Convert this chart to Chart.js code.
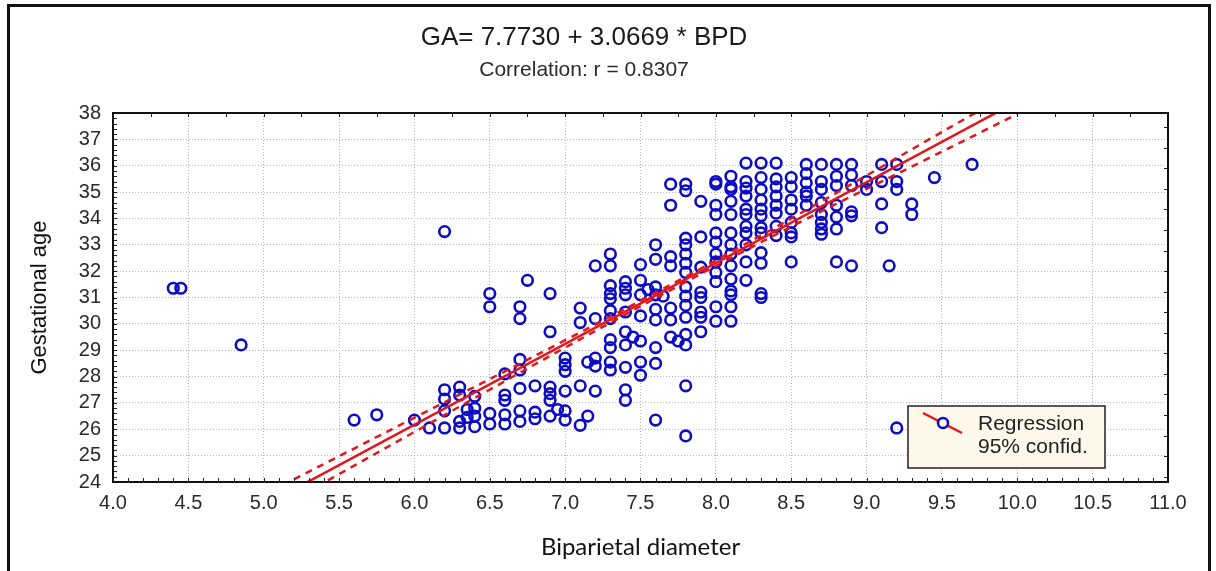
<!DOCTYPE html>
<html>
<head>
<meta charset="utf-8">
<title>GA vs BPD</title>
<script src="https://cdn.jsdelivr.net/npm/chart.js@4.4.1/dist/chart.umd.min.js"></script>
<style>
    body { margin: 0; background: #fff; }
    #moldura {
        position: absolute; left: 7px; top: 4px; width: 1204px; height: 640px;
        border: 3px solid #111; box-sizing: border-box; pointer-events: none;
    }
    #grafico { position: absolute; left: 0; top: 0; }
</style>
</head>
<body>
<canvas id="grafico" width="1216" height="571"></canvas>
<div id="moldura"></div>
<script>
// --- Dados ---

// Colunas de BPD (diâmetro biparietal) e as idades gestacionais de cada coluna
const colunasBPD = [
    4.4, 4.45, 4.85, 5.6, 5.75, 6.0, 6.1, 6.2, 6.3, 6.35, 6.4, 6.5, 6.6, 6.7, 6.75, 6.8, 6.9, 6.95,
    7.0, 7.1, 7.15, 7.2, 7.3, 7.4, 7.45, 7.5, 7.55, 7.6, 7.65, 7.7, 7.75, 7.8, 7.9,
    8.0, 8.1, 8.2, 8.3, 8.4, 8.5, 8.6, 8.7, 8.8, 8.9, 9.0, 9.1, 9.15, 9.2, 9.3, 9.45, 9.7
];
const idadesPorColuna = [
    [31.35], [31.35], [29.2], [26.35], [26.55], [26.35], [26.05],
    [33.5, 27.5, 27.15, 26.7, 26.05],
    [27.6, 27.3, 26.3, 26.05],
    [26.75, 26.45],
    [27.25, 26.8, 26.5, 26.1],
    [31.15, 30.65, 26.6, 26.2],
    [28.1, 27.3, 27.1, 26.55, 26.2],
    [30.65, 30.2, 28.65, 28.25, 27.55, 26.7, 26.3],
    [31.65],
    [27.65, 26.65, 26.4],
    [31.15, 29.7, 27.6, 27.35, 27.1, 26.5],
    [26.75],
    [28.7, 28.45, 28.2, 27.45, 26.7, 26.35],
    [30.6, 30.05, 27.65, 26.15],
    [28.55, 26.5],
    [32.2, 30.2, 28.7, 28.4, 27.45],
    [32.65, 32.2, 31.45, 31.15, 30.95, 30.5, 30.2, 29.4, 29.1, 28.55, 28.25],
    [31.6, 31.35, 31.1, 30.45, 29.7, 29.2, 28.35, 27.5, 27.1],
    [29.5],
    [32.25, 31.65, 31.1, 30.3, 29.35, 28.55, 28.05],
    [31.3],
    [33.0, 32.45, 31.4, 31.1, 30.55, 30.15, 29.1, 28.5, 26.35],
    [31.05],
    [35.3, 34.5, 32.55, 32.2, 30.6, 30.15, 29.5],
    [29.35],
    [35.3, 35.05, 33.25, 33.0, 32.65, 32.3, 31.95, 31.4, 31.05, 30.7, 30.25, 29.6, 29.2, 27.65, 25.75],
    [34.65, 33.3, 32.15, 31.2, 31.0, 30.45, 30.25, 29.7],
    [35.4, 35.3, 34.5, 34.15, 33.45, 33.1, 32.65, 32.35, 31.95, 31.6, 30.65, 30.1],
    [35.6, 35.2, 35.1, 34.65, 34.15, 33.45, 33.0, 32.65, 32.2, 31.7, 31.25, 31.1, 30.65, 30.1],
    [36.1, 35.4, 35.15, 34.85, 34.35, 34.15, 33.7, 33.45, 33.0, 32.35, 31.65],
    [36.1, 35.55, 35.1, 34.7, 34.35, 34.1, 33.65, 33.45, 32.7, 32.3, 31.15, 31.0],
    [36.1, 35.5, 35.2, 34.85, 34.5, 34.2, 33.7, 33.35],
    [35.55, 35.2, 34.7, 34.35, 33.85, 33.45, 33.3, 32.35],
    [36.05, 35.7, 35.35, 35.0, 34.85, 34.5],
    [36.05, 35.4, 35.1, 34.6, 34.15, 33.85, 33.6, 33.4],
    [36.05, 35.6, 35.25, 34.5, 34.05, 33.6, 32.35],
    [36.05, 35.65, 35.25, 34.25, 34.1, 32.2],
    [35.4, 35.1],
    [36.05, 35.4, 34.55, 33.65],
    [32.2],
    [36.05, 35.4, 35.1, 26.05],
    [34.55, 34.15],
    [35.55],
    [36.05]
];

// Reta de regressão (GA = 7.7730 + 3.0669 * BPD) nas extremidades
const regressaoX = [5.2, 10.0];
const regressaoY = [23.72, 38.44];

// Faixas de confiança de 95% (tracejadas)
const faixaX = [5.2, 6.0, 7.0, 7.8, 8.6, 9.4, 10.0];
const faixaSuperior = [24.1, 26.44, 29.38, 31.79, 34.32, 36.95, 38.92];
const faixaInferior = [23.34, 25.9, 29.10, 31.59, 33.98, 36.25, 37.96];

// Eixos
const limitesX = [4.0, 11.0];
const limitesY = [24, 38];

// --- Cores e fontes ---
const AZUL = '#0c0cc4';
const VERMELHO = '#e3161c';
const FONTE = "'Liberation Sans', Arial, sans-serif";

// --- Montagem dos pontos ---
function montarPontos() {
    const pontos = [];
    colunasBPD.forEach((bpd, i) => {
        idadesPorColuna[i].forEach(ga => pontos.push({ x: bpd, y: ga }));
    });
    return pontos;
}
const juntar = (xs, ys) => xs.map((x, i) => ({ x: x, y: ys[i] }));

// --- Plugin: moldura do gráfico, marcas menores e legenda interna ---
const molduraPlugin = {
    id: 'molduraPlugin',
    afterDraw(chart) {
        const { ctx, chartArea: a, scales: { x, y } } = chart;
        ctx.save();

        // marcas menores
        ctx.strokeStyle = '#222';
        ctx.lineWidth = 1;
        ctx.beginPath();
        for (let v = limitesX[0]; v <= limitesX[1] + 1e-6; v += 0.1) {
            const px = Math.round(x.getPixelForValue(v)) + 0.5;
            ctx.moveTo(px, a.bottom); ctx.lineTo(px, a.bottom - 4);
        }
        for (let v = limitesX[0]; v <= limitesX[1] + 1e-6; v += 0.25) {
            const px = Math.round(x.getPixelForValue(v)) + 0.5;
            ctx.moveTo(px, a.top); ctx.lineTo(px, a.top + 4);
        }
        for (let v = limitesY[0]; v <= limitesY[1] + 1e-6; v += 0.2) {
            const py = Math.round(y.getPixelForValue(v)) + 0.5;
            ctx.moveTo(a.left, py); ctx.lineTo(a.left + 4, py);
        }
        for (let v = limitesY[0] + 0.2; v <= limitesY[1] + 1e-6; v += 0.78) {
            const py = Math.round(y.getPixelForValue(v)) + 0.5;
            ctx.moveTo(a.right, py); ctx.lineTo(a.right - 4, py);
        }
        ctx.stroke();

        // moldura da área de plotagem
        ctx.strokeStyle = '#111';
        ctx.lineWidth = 2;
        ctx.strokeRect(a.left, a.top, a.right - a.left, a.bottom - a.top);

        // legenda
        const lx = a.right - 260, ly = a.bottom - 76, lw = 197, lh = 62;
        ctx.fillStyle = '#fdf8ea';
        ctx.fillRect(lx, ly, lw, lh);
        ctx.strokeStyle = '#222';
        ctx.lineWidth = 1.5;
        ctx.strokeRect(lx, ly, lw, lh);

        ctx.strokeStyle = VERMELHO;
        ctx.lineWidth = 2.5;
        ctx.beginPath();
        ctx.moveTo(lx + 15, ly + 7);
        ctx.lineTo(lx + 54, ly + 27);
        ctx.stroke();
        ctx.strokeStyle = AZUL;
        ctx.lineWidth = 2.5;
        ctx.fillStyle = '#fdf8ea';
        ctx.beginPath();
        ctx.arc(lx + 35, ly + 17, 5, 0, Math.PI * 2);
        ctx.fill();
        ctx.stroke();

        ctx.fillStyle = '#222';
        ctx.font = '21px ' + FONTE;
        ctx.textBaseline = 'middle';
        ctx.textAlign = 'left';
        ctx.fillText('Regression', lx + 70, ly + 18);
        ctx.fillText('95% confid.', lx + 70, ly + 41);
        ctx.restore();
    }
};

// --- Gráfico ---
function renderizarGrafico() {
    const ctx = document.getElementById('grafico').getContext('2d');
    const estiloFaixa = {
        type: 'line',
        borderColor: VERMELHO,
        borderWidth: 2.5,
        borderDash: [7, 6],
        pointRadius: 0,
        tension: 0.35,
        fill: false
    };

    new Chart(ctx, {
        type: 'scatter',
        data: {
            datasets: [
                {
                    label: 'Regression',
                    type: 'line',
                    data: juntar(regressaoX, regressaoY),
                    borderColor: VERMELHO,
                    borderWidth: 2.5,
                    pointRadius: 0,
                    fill: false
                },
                Object.assign({ label: '95% superior', data: juntar(faixaX, faixaSuperior) }, estiloFaixa),
                Object.assign({ label: '95% inferior', data: juntar(faixaX, faixaInferior) }, estiloFaixa),
                {
                    label: 'GA',
                    data: montarPontos(),
                    pointStyle: 'circle',
                    pointRadius: 5.3,
                    borderWidth: 2.6,
                    borderColor: AZUL,
                    backgroundColor: 'rgba(0,0,0,0)'
                }
            ]
        },
        options: {
            responsive: false,
            animation: false,
            devicePixelRatio: 1,
            layout: { padding: { top: 0, right: 48, bottom: 0, left: 0 } },
            plugins: {
                legend: { display: false },
                tooltip: { enabled: false },
                title: {
                    display: true,
                    text: 'GA= 7.7730 + 3.0669 * BPD',
                    color: '#1a1a1a',
                    font: { family: FONTE, size: 26, weight: 'normal' },
                    padding: { top: 22, bottom: 0 }
                },
                subtitle: {
                    display: true,
                    text: 'Correlation: r = 0.8307',
                    color: '#2a2a2a',
                    font: { family: FONTE, size: 21, weight: 'normal' },
                    padding: { top: 4, bottom: 30.6 }
                }
            },
            scales: {
                x: {
                    type: 'linear',
                    min: limitesX[0],
                    max: limitesX[1],
                    afterFit: (escala) => { escala.height = 89; },
                    ticks: {
                        stepSize: 0.5,
                        autoSkip: false,
                        maxRotation: 0,
                        padding: 9,
                        color: '#2a2a2a',
                        font: { family: FONTE, size: 20 },
                        callback: (v) => Number(v).toFixed(1)
                    },
                    grid: { color: '#b5b5b5', lineWidth: 1, drawTicks: false },
                    border: { display: true, color: '#111', width: 2, dash: [1, 2] },
                    title: {
                        display: true,
                        text: 'Biparietal diameter',
                        color: '#111',
                        font: { family: 'Lato, sans-serif', size: 24 },
                        padding: { top: 0, bottom: 9 }
                    }
                },
                y: {
                    type: 'linear',
                    min: limitesY[0],
                    max: limitesY[1],
                    afterFit: (escala) => { escala.width = 113; },
                    ticks: {
                        stepSize: 1,
                        autoSkip: false,
                        padding: 12,
                        color: '#2a2a2a',
                        font: { family: FONTE, size: 20 }
                    },
                    grid: { color: '#b5b5b5', lineWidth: 1, drawTicks: false },
                    border: { display: true, color: '#111', width: 2, dash: [1, 2] },
                    title: {
                        display: true,
                        text: 'Gestational age',
                        color: '#111',
                        font: { family: FONTE, size: 22 },
                        padding: { top: 27, bottom: 0 }
                    }
                }
            }
        },
        plugins: [molduraPlugin]
    });
}

document.addEventListener('DOMContentLoaded', renderizarGrafico);
</script>
</body>
</html>
